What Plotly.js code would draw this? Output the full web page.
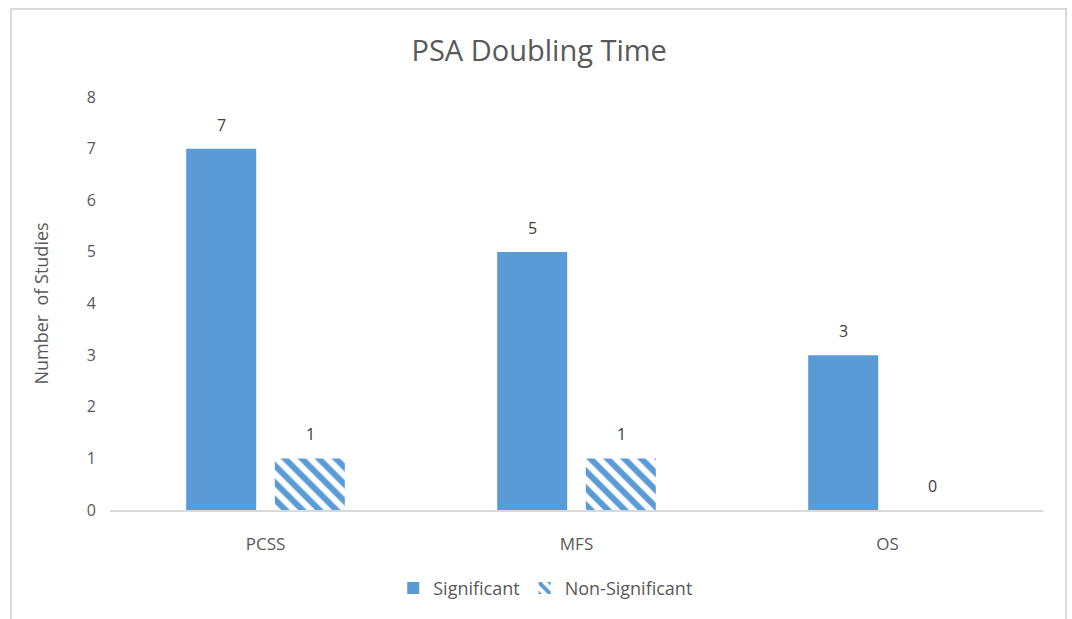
<!DOCTYPE html>
<html>
<head>
<meta charset="utf-8">
<script src="https://cdn.plot.ly/plotly-3.0.1.min.js"></script>
<style>
  html, body { margin: 0; padding: 0; background: #fff; }
  #chart { width: 1072px; height: 619px; }
  #frame { position: absolute; left: 10px; top: 8px; width: 1057px; height: 620px;
           border: 2px solid #d9d9d9; box-sizing: border-box; pointer-events: none; }
</style>
</head>
<body>
<div id="chart"></div>
<div id="frame"></div>
<script>
// Outcome categories and study counts
const categories = ['PCSS', 'MFS', 'OS'];
const significant = [7, 5, 3];
const nonSignificant = [1, 1, 0];
const yTicks = [0, 1, 2, 3, 4, 5, 6, 7, 8];

const blue = '#5B9BD5';
const grey = '#595959';
const font = 'Open Sans, Liberation Sans, sans-serif';

const traces = [
  {
    type: 'bar', name: 'Significant', x: categories, y: significant,
    marker: { color: blue }, hoverinfo: 'x+y'
  },
  {
    type: 'bar', name: 'Non-Significant', x: categories, y: nonSignificant,
    marker: {
      color: '#ffffff',
      pattern: { shape: '\\', fgcolor: blue, bgcolor: '#ffffff', size: 12, solidity: 0.5 }
    },
    hoverinfo: 'x+y'
  }
];

// Value labels above each bar, offset to the bar's slot within its group
const slotShift = 44.5;
const annotations = [];
categories.forEach((c, i) => {
  annotations.push({ x: c, y: significant[i], text: String(significant[i]), xref: 'x', yref: 'y',
    showarrow: false, yanchor: 'bottom', yshift: 11, xshift: -slotShift,
    font: { family: font, size: 16, color: '#404040' } });
  annotations.push({ x: c, y: nonSignificant[i], text: String(nonSignificant[i]), xref: 'x', yref: 'y',
    showarrow: false, yanchor: 'bottom', yshift: 11, xshift: slotShift,
    font: { family: font, size: 16, color: '#404040' } });
});

const layout = {
  width: 1072, height: 619,
  margin: { l: 110, r: 29, t: 97, b: 107 },
  paper_bgcolor: '#ffffff', plot_bgcolor: '#ffffff',
  title: { text: 'PSA Doubling Time', x: 0.503, xref: 'container', xanchor: 'center',
           y: 0.918, yref: 'container', yanchor: 'middle',
           font: { family: font, size: 29, color: grey } },
  font: { family: font, color: grey },
  barmode: 'group', bargap: 0.43, bargroupgap: 0.21,
  xaxis: {
    type: 'category', showline: true, linecolor: '#d9d9d9', linewidth: 1.5,
    ticks: '', ticklabelstandoff: 18, tickfont: { family: font, size: 17, color: grey },
    showgrid: false, zeroline: false
  },
  yaxis: {
    range: [0, 8], tickvals: yTicks, ticktext: yTicks.map(String),
    showgrid: false, zeroline: false, showline: false, ticks: '',
    ticklabelstandoff: 13,
    tickfont: { family: font, size: 16, color: grey },
    title: { text: 'Number  of Studies', standoff: 33, font: { family: font, size: 18, color: grey } }
  },
  legend: {
    orientation: 'h', x: 0.467, xanchor: 'center', y: -0.145, yanchor: 'top',
    font: { family: font, size: 18, color: grey }, itemwidth: 30
  },
  annotations: annotations,
  showlegend: true
};

Plotly.newPlot('chart', traces, layout, { displayModeBar: false, staticPlot: true });
</script>
</body>
</html>
